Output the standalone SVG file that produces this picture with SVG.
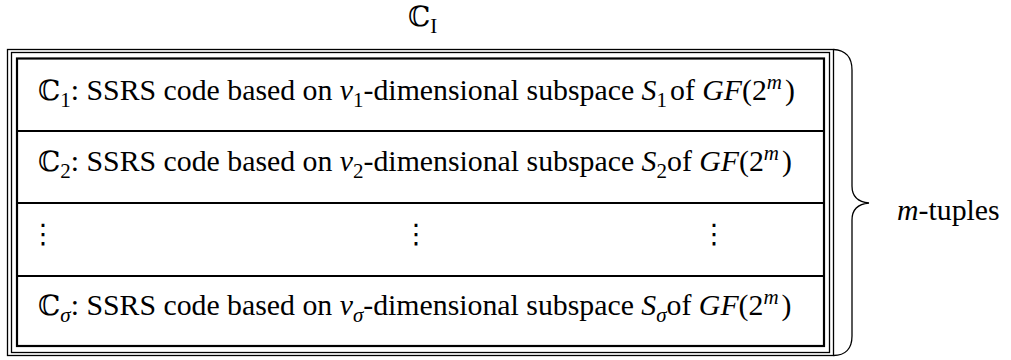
<svg xmlns="http://www.w3.org/2000/svg" width="1011" height="360" viewBox="0 0 1011 360">
<style>
text{font-family:'Liberation Serif','Times New Roman',serif}
.t{font-size:29.8px;fill:#000}
.m{font-style:italic}
.bb{font-family:'DejaVu Serif',serif;font-style:normal}
.sub{font-size:21px}
.thin{fill:none;stroke:#000;stroke-width:1.3}
.thick{fill:none;stroke:#000;stroke-width:2.2}
.dots{font-family:'DejaVu Sans',sans-serif;font-size:27px;text-anchor:middle}
</style>
<rect width="1011" height="360" fill="#fff"/>
<g id="label-top">
<text class="t" x="408" y="26"><tspan class="bb" font-size="28">ℂ</tspan><tspan class="sub" dy="7">I</tspan></text>
</g>
<g id="frame">
<rect class="thin" x="7.5" y="49.5" width="826" height="306"/>
<rect class="thin" x="11.5" y="52.5" width="818" height="300"/>
<rect class="thick" x="17" y="58.5" width="807" height="287.5"/>
</g>
<g id="row1">
<line class="thick" x1="17" y1="131" x2="824" y2="131"/>
<text class="t" x="38" y="100"><tspan class="bb" font-size="28">ℂ</tspan><tspan class="sub" dy="7">1</tspan><tspan dy="-7">: SSRS code based on </tspan><tspan class="m">v</tspan><tspan class="sub" dy="7">1</tspan><tspan dy="-7">-dimensional subspace </tspan><tspan class="m">S</tspan><tspan class="sub" dy="7">1</tspan><tspan dy="-7" dx="3">of </tspan><tspan class="m">GF</tspan><tspan>(2</tspan><tspan class="sub m" dy="-11">m</tspan><tspan dy="11" dx="3">)</tspan></text>
</g>
<g id="row2">
<line class="thick" x1="17" y1="203" x2="824" y2="203"/>
<text class="t" x="38" y="171"><tspan class="bb" font-size="28">ℂ</tspan><tspan class="sub" dy="7">2</tspan><tspan dy="-7">: SSRS code based on </tspan><tspan class="m">v</tspan><tspan class="sub" dy="7">2</tspan><tspan dy="-7">-dimensional subspace </tspan><tspan class="m">S</tspan><tspan class="sub" dy="7">2</tspan><tspan dy="-7">of </tspan><tspan class="m">GF</tspan><tspan>(2</tspan><tspan class="sub m" dy="-11">m</tspan><tspan dy="11" dx="3">)</tspan></text>
</g>
<g id="row3">
<line class="thick" x1="17" y1="276" x2="824" y2="276"/>
<text class="dots" x="43" y="243">⋮</text>
<text class="dots" x="416" y="243">⋮</text>
<text class="dots" x="714" y="243">⋮</text>
</g>
<g id="row4">
<text class="t" x="38" y="315"><tspan class="bb" font-size="28">ℂ</tspan><tspan class="sub m" dy="7">σ</tspan><tspan dy="-7">: SSRS code based on </tspan><tspan class="m">v</tspan><tspan class="sub m" dy="7">σ</tspan><tspan dy="-7">-dimensional subspace </tspan><tspan class="m">S</tspan><tspan class="sub m" dy="7">σ</tspan><tspan dy="-7">of </tspan><tspan class="m">GF</tspan><tspan>(2</tspan><tspan class="sub m" dy="-11">m</tspan><tspan dy="11" dx="3">)</tspan></text>
</g>
<g id="connectors">
<path class="thin" d="M833.5 49.5 C845 50 852 57 852 70 L852 186 C852 196 858 202 869 203 C858 204 852 210 852 220 L852 336 C852 349 845 355.5 833.5 355.5"/>
</g>
<g id="label-mtuples">
<text class="t" x="897" y="220"><tspan class="m">m</tspan>-tuples</text>
</g>
</svg>
